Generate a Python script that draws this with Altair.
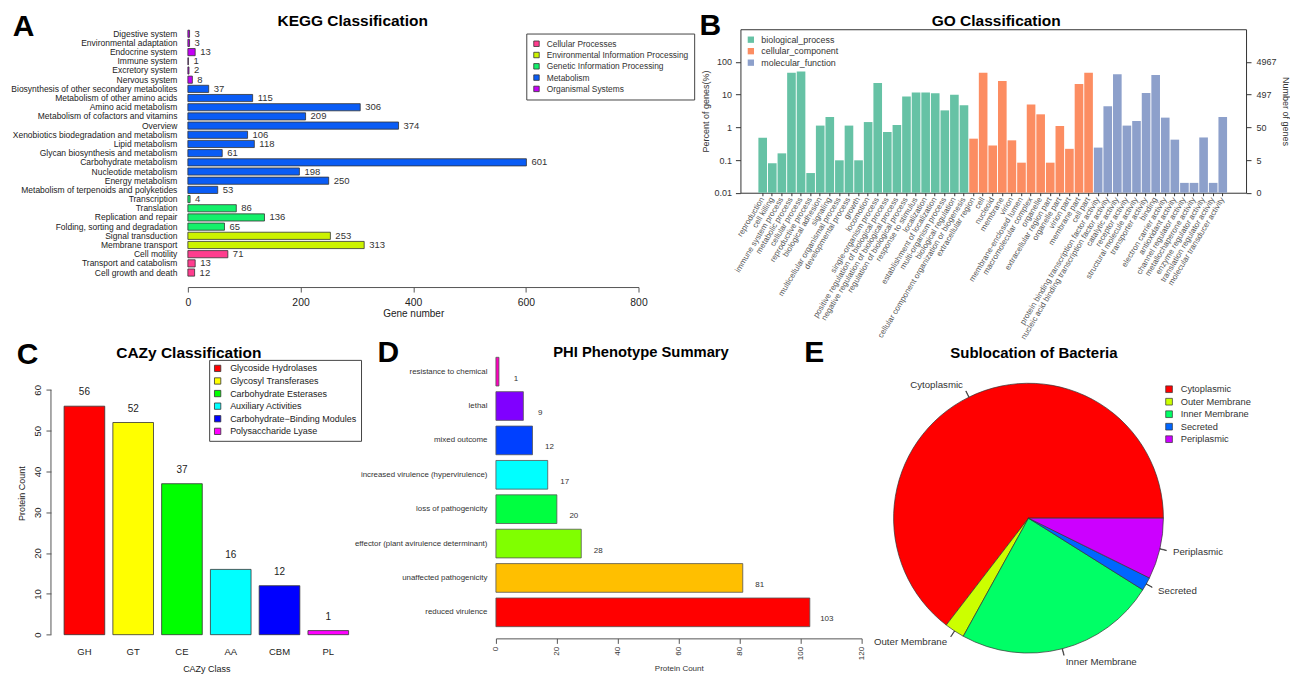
import math
import altair as alt
import pandas as pd

FONT = "Liberation Sans"

# ---------------- A: KEGG ----------------
kegg_terms = ["Digestive system", "Environmental adaptation", "Endocrine system", "Immune system",
              "Excretory system", "Nervous system", "Biosynthesis of other secondary metabolites",
              "Metabolism of other amino acids", "Amino acid metabolism", "Metabolism of cofactors and vitamins",
              "Overview", "Xenobiotics biodegradation and metabolism", "Lipid metabolism",
              "Glycan biosynthesis and metabolism", "Carbohydrate metabolism", "Nucleotide metabolism",
              "Energy metabolism", "Metabolism of terpenoids and polyketides", "Transcription", "Translation",
              "Replication and repair", "Folding, sorting and degradation", "Signal transduction",
              "Membrane transport", "Cell motility", "Transport and catabolism", "Cell growth and death"]
kegg_counts = [3, 3, 13, 1, 2, 8, 37, 115, 306, 209, 374, 106, 118, 61, 601, 198, 250, 53,
               4, 86, 136, 65, 253, 313, 71, 13, 12]
kegg_class = ["Organismal Systems"] * 6 + ["Metabolism"] * 12 + ["Genetic Information Processing"] * 4 + \
             ["Environmental Information Processing"] * 2 + ["Cellular Processes"] * 3
kegg_class_order = ["Cellular Processes", "Environmental Information Processing",
                    "Genetic Information Processing", "Metabolism", "Organismal Systems"]
kegg_colors = ["#FF3D8E", "#CCF200", "#14F06A", "#0A5CF5", "#C400F5"]
kegg_ticks = [0, 200, 400, 600, 800]

# ---------------- B: GO ----------------
go_bp_terms = ["reproduction", "cell killing", "immune system process", "metabolic process", "cellular process",
               "reproductive process", "biological adhesion", "signaling", "multicellular organismal process",
               "developmental process", "growth", "locomotion", "single-organism process",
               "positive regulation of biological process", "negative regulation of biological process",
               "regulation of biological process", "response to stimulus", "localization",
               "establishment of localization", "multi-organism process", "biological regulation",
               "cellular component organization or biogenesis"]
go_bp_pct = [0.48, 0.079, 0.16, 47, 51, 0.04, 1.13, 2.07, 0.098, 1.13, 0.098, 1.45, 22.7,
             0.72, 1.18, 8.7, 11.6, 11.6, 11.0, 3.3, 10.0, 4.7]
go_cc_terms = ["extracellular region", "cell", "nucleoid", "membrane", "virion", "membrane-enclosed lumen",
               "macromolecular complex", "organelle", "extracellular region part", "organelle part",
               "virion part", "membrane part", "cell part"]
go_cc_pct = [0.45, 47, 0.28, 26, 0.40, 0.083, 5.0, 2.5, 0.083, 1.1, 0.22, 21, 47]
go_mf_terms = ["protein binding transcription factor activity", "nucleic acid binding transcription factor activity",
               "catalytic activity", "receptor activity", "structural molecule activity", "transporter activity",
               "binding", "electron carrier activity", "antioxidant activity", "channel regulator activity",
               "metallochaperone activity", "enzyme regulator activity", "translation regulator activity",
               "molecular transducer activity"]
go_mf_pct = [0.24, 4.4, 42, 1.13, 1.56, 11.2, 40, 1.98, 0.42, 0.02, 0.02, 0.49, 0.02, 2.07]
go_categories = ["biological_process", "cellular_component", "molecular_function"]
go_colors = ["#66C2A5", "#FC8D62", "#8DA0CB"]
go_total_genes = 4967
go_ticks = [0.01, 0.1, 1, 10, 100]

# ---------------- C: CAZy ----------------
cazy_class = ["GH", "GT", "CE", "AA", "CBM", "PL"]
cazy_counts = [56, 52, 37, 16, 12, 1]
cazy_names = ["Glycoside Hydrolases", "Glycosyl Transferases", "Carbohydrate Esterases",
              "Auxiliary Activities", "Carbohydrate\u2212Binding Modules", "Polysaccharide Lyase"]
cazy_colors = ["#FF0000", "#FFFF00", "#00FF00", "#00FFFF", "#0000FF", "#FF00FF"]
cazy_ticks = [0, 10, 20, 30, 40, 50, 60]

# ---------------- D: PHI ----------------
phi_terms = ["resistance to chemical", "lethal", "mixed outcome", "increased virulence (hypervirulence)",
             "loss of pathogenicity", "effector (plant avirulence determinant)", "unaffected pathogenicity",
             "reduced virulence"]
phi_counts = [1, 9, 12, 17, 20, 28, 81, 103]
phi_colors = ["#FF00BF", "#8000FF", "#0040FF", "#00FFFF", "#00FF40", "#80FF00", "#FFBF00", "#FF0000"]
phi_ticks = [0, 20, 40, 60, 80, 100, 120]

# ---------------- E: Sublocation ----------------
pie_names = ["Cytoplasmic", "Outer Membrane", "Inner Membrane", "Secreted", "Periplasmic"]
pie_values = [64.5, 2.4, 24.1, 1.6, 7.3]
pie_colors = ["#FF0000", "#CCFF00", "#00FF66", "#0066FF", "#CC00FF"]

panel_letters = ["A", "B", "C", "D", "E"]
panel_titles = ["KEGG Classification", "GO Classification", "CAZy Classification",
                "PHI Phenotype Summary", "Sublocation of Bacteria"]


def annot(txt, x, y, size, weight="bold"):
    return alt.Chart(pd.DataFrame({"t": [txt]})).mark_text(
        font=FONT, fontSize=size, fontWeight=weight, align="center", baseline="middle", color="#000"
    ).encode(x=alt.value(x), y=alt.value(y), text="t:N")


def gap(w, h):
    return alt.Chart(pd.DataFrame({"t": [0]})).mark_point(
        filled=True, size=1, color="transparent").encode(
        x=alt.value(w / 2), y=alt.value(h / 2)).properties(width=w, height=h)


def guard(x, y):
    # invisible layout anchor: fixes the top-left extent of the whole figure
    return alt.Chart(pd.DataFrame({"t": [0]})).mark_point(
        filled=True, size=1, color="transparent").encode(x=alt.value(x), y=alt.value(y))


# ======== Panel A ========
A_W, A_H = 451, 248
kegg_df = pd.DataFrame({"term": kegg_terms, "count": kegg_counts, "cls": kegg_class})
kb = alt.Chart(kegg_df)
ky = alt.Y("term:N", sort=kegg_terms, scale=alt.Scale(paddingInner=0.22, paddingOuter=0.1),
           axis=alt.Axis(title=None, ticks=False, domain=False, labelFontSize=8.5, labelColor="#222",
                         labelPadding=11, labelLimit=400))
kx = alt.X("count:Q", scale=alt.Scale(domain=[0, 800], nice=False),
           axis=alt.Axis(values=kegg_ticks, grid=False, offset=10, tickSize=5, domainColor="#555",
                         tickColor="#555", labelFontSize=10.4, labelPadding=5, labelColor="#222",
                         labelFlush=False,
                         title="Gene number", titleFontSize=10, titleFontWeight="normal", titlePadding=1,
                         titleColor="#222"))
kegg_bars = kb.mark_bar(stroke="#333", strokeWidth=0.8).encode(
    y=ky, x=kx,
    color=alt.Color("cls:N", scale=alt.Scale(domain=kegg_class_order, range=kegg_colors),
                    legend=alt.Legend(orient="none", legendX=338.7, legendY=4.3, title=None,
                                      strokeColor="#444", fillColor="#fff", padding=6,
                                      symbolType="square", symbolSize=30, symbolStrokeColor="#333",
                                      symbolStrokeWidth=0.8, labelFontSize=8.4, labelColor="#333",
                                      rowPadding=1.3, labelOffset=6)))
kegg_text = kb.mark_text(align="left", dx=5, fontSize=9.5, color="#333", font=FONT).encode(
    y=alt.Y("term:N", sort=kegg_terms), x="count:Q", text="count:Q")
panel_a = alt.layer(kegg_bars, kegg_text,
                    annot(panel_titles[0], 165, -8.4, 15.5),
                    annot(panel_letters[0], -164.5, -2.4, 30),
                    guard(-179, -19.4)).properties(width=A_W, height=A_H)

# ======== Panel B ========
B_W, B_H = 506, 163.6
go_terms = go_bp_terms + go_cc_terms + go_mf_terms
go_df = pd.DataFrame({
    "term": go_terms,
    "pct": go_bp_pct + go_cc_pct + go_mf_pct,
    "cat": [go_categories[0]] * len(go_bp_terms) + [go_categories[1]] * len(go_cc_terms)
           + [go_categories[2]] * len(go_mf_terms)})
go_xscale = alt.Scale(range=[17.5, 487.5], paddingInner=0.1, paddingOuter=0.05)
go_yscale = alt.Scale(type="log", domain=[0.01, 1000], nice=False)
go_xaxis = alt.Axis(title=None, labelAngle=-59, labelAlign="right", labelBaseline="middle",
                    labelFontSize=8, labelColor="#555", tickSize=3, tickColor="#333",
                    domain=False, labelPadding=2, labelLimit=300, labelOverlap=False)
gb = alt.Chart(go_df)
go_bars = gb.mark_bar().encode(
    x=alt.X("term:N", sort=go_terms, scale=go_xscale, axis=go_xaxis),
    y=alt.Y("pct:Q", scale=go_yscale,
            axis=alt.Axis(values=go_ticks, format="~g", grid=False, domain=False, tickSize=5,
                          tickColor="#333", labelFontSize=9, labelColor="#333", labelPadding=4,
                          labelFlush=False,
                          title="Percent of genes(%)", titleFontSize=9, titleFontWeight="normal",
                          titleColor="#333", titlePadding=3)),
    y2=alt.datum(0.01),
    color=alt.Color("cat:N", scale=alt.Scale(domain=go_categories, range=go_colors),
                    legend=alt.Legend(orient="none", legendX=6, legendY=6, title=None,
                                      symbolType="square", symbolSize=40, symbolStrokeWidth=0,
                                      labelFontSize=8.9, labelColor="#333", rowPadding=1.5,
                                      padding=0, labelOffset=6)))
go_right = gb.mark_bar(opacity=0).encode(
    x=alt.X("term:N", sort=go_terms, scale=go_xscale, axis=go_xaxis),
    y=alt.Y("pct:Q", scale=go_yscale,
            axis=alt.Axis(orient="right", values=go_ticks,
                          labelExpr="format(round(datum.value*%d/100),'d')" % go_total_genes,
                          grid=False, domain=False, tickSize=5, tickColor="#333", labelFontSize=9,
                          labelColor="#333", labelPadding=5, labelFlush=False,
                          title="Number of genes", titleFontSize=9,
                          titleFontWeight="normal", titleColor="#333", titlePadding=4)),
    y2=alt.datum(0.01))
panel_b = alt.layer(go_bars, go_right,
                    annot(panel_titles[1], 256, -8.4, 15.5),
                    annot(panel_letters[1], -30, -3.4, 30)).resolve_scale(y="independent").properties(
    width=B_W, height=B_H, view=alt.ViewBackground(stroke="#333", strokeWidth=1))

# ======== Panel C ========
C_W, C_H = 301, 283.3
cazy_df = pd.DataFrame({"cls": cazy_class, "count": cazy_counts, "name": cazy_names})
cazy_ymax = cazy_ticks[-1] * C_H / 245.0
cb = alt.Chart(cazy_df)
cy_scale = alt.Scale(domain=[0, cazy_ymax], nice=False)
cazy_bars = cb.mark_bar(stroke="#333", strokeWidth=0.8).encode(
    x=alt.X("cls:N", sort=cazy_class, scale=alt.Scale(paddingInner=0.1667, paddingOuter=0.1667),
            axis=alt.Axis(title="CAZy Class", ticks=False, domain=False, labelAngle=0, labelFontSize=9.5,
                          labelColor="#222", labelPadding=12, titleFontSize=9, titleFontWeight="normal",
                          titleColor="#222", titlePadding=8)),
    y=alt.Y("count:Q", scale=cy_scale,
            axis=alt.Axis(values=cazy_ticks, grid=False, domain=False, offset=5, tickSize=5,
                          tickColor="#555", labelAngle=-90, labelAlign="center", labelBaseline="bottom",
                          labelFontSize=9.5, labelColor="#222", labelPadding=3, labelFlush=False,
                          title="Protein Count",
                          titleFontSize=9, titleFontWeight="normal", titleColor="#222", titlePadding=6)),
    color=alt.Color("name:N", scale=alt.Scale(domain=cazy_names, range=cazy_colors),
                    legend=alt.Legend(orient="none", legendX=153.3, legendY=8.3, title=None,
                                      strokeColor="#444", fillColor="#fff", padding=4,
                                      symbolType="square", symbolSize=40, symbolStrokeColor="#333",
                                      symbolStrokeWidth=0.8, labelFontSize=9, labelColor="#222",
                                      rowPadding=1.6, labelOffset=8)))
cazy_text = cb.mark_text(fontSize=10, color="#222", font=FONT, dy=-14, baseline="middle").encode(
    x=alt.X("cls:N", sort=cazy_class), y=alt.Y("count:Q", scale=cy_scale), text="count:Q")
cazy_axis = alt.Chart(pd.DataFrame({"lo": [cazy_ticks[0]], "hi": [cazy_ticks[-1]]})).mark_rule(
    color="#555", strokeWidth=1).encode(x=alt.value(-5), y=alt.Y("lo:Q", scale=cy_scale), y2="hi:Q")
panel_c = alt.layer(cazy_bars, cazy_text, cazy_axis,
                    annot(panel_titles[2], 133, 1, 15.5),
                    annot(panel_letters[2], -28.5, 3, 30)).properties(width=C_W, height=C_H)

# ======== Panel D ========
D_W, D_H = 366, 281
phi_df = pd.DataFrame({"term": phi_terms, "count": phi_counts})
pb = alt.Chart(phi_df)
phi_bars = pb.mark_bar(stroke="#555", strokeWidth=0.8).encode(
    y=alt.Y("term:N", sort=phi_terms, scale=alt.Scale(paddingInner=0.166, paddingOuter=0.166),
            axis=alt.Axis(title=None, ticks=False, domain=False, labelFontSize=7.9, labelColor="#333",
                          labelPadding=9, labelLimit=400)),
    x=alt.X("count:Q", scale=alt.Scale(domain=[0, 120], nice=False),
            axis=alt.Axis(values=phi_ticks, grid=False, offset=6, tickSize=5, domainColor="#555",
                          tickColor="#555", labelAngle=-90, labelAlign="right", labelBaseline="middle",
                          labelFontSize=8, labelColor="#333", labelPadding=3, labelFlush=False,
                          title="Protein Count",
                          titleFontSize=8, titleFontWeight="normal", titleColor="#333", titlePadding=5)),
    color=alt.Color("term:N", scale=alt.Scale(domain=phi_terms, range=phi_colors), legend=None))
phi_text = pb.mark_text(fontSize=8, color="#333", font=FONT, dx=17, dy=7).encode(
    y=alt.Y("term:N", sort=phi_terms), x="count:Q", text="count:Q")
panel_d = alt.layer(phi_bars, phi_text,
                    annot(panel_titles[3], 145.2, 1, 14.8),
                    annot(panel_letters[3], -107.8, 1, 30)).properties(width=D_W, height=D_H)

# ======== Panel E ========
E_W, E_H = 270, 333.4
pie_total = sum(pie_values)
cum = 0.0
sides = []
for v in pie_values:
    mid = (cum + v / 2) / pie_total * 2 * math.pi
    sides.append("left" if math.cos(mid) < 0 else "right")
    cum += v
pie_df = pd.DataFrame({"name": pie_names, "value": pie_values, "idx": list(range(len(pie_names))),
                       "side": sides})
theta_scale = alt.Scale(range=[2.5 * math.pi, 0.5 * math.pi])
eb = alt.Chart(pie_df)
pie = eb.mark_arc(radius=135, stroke="#333", strokeWidth=0.7).encode(
    theta=alt.Theta("value:Q", stack=True, scale=theta_scale),
    order=alt.Order("idx:Q"),
    color=alt.Color("name:N", scale=alt.Scale(domain=pie_names, range=pie_colors), sort=pie_names,
                    legend=alt.Legend(orient="none", legendX=271, legendY=33, title=None,
                                      symbolType="square", symbolSize=45, symbolStrokeColor="#333",
                                      symbolStrokeWidth=0.7, labelFontSize=9.3, labelColor="#333",
                                      rowPadding=1.5, padding=0, labelOffset=7)))
pie_ticks = eb.transform_window(cum="sum(value)", sort=[alt.SortField("idx")]).transform_calculate(
    t0="datum.cum - datum.value / 2 - 0.03", t1="datum.cum - datum.value / 2 + 0.03"
).mark_arc(radius=141.75, radius2=135, stroke="#333", strokeWidth=0.6, fill="#333").encode(
    theta=alt.Theta("t0:Q", scale=theta_scale), theta2="t1:Q")
pie_lab_l = eb.mark_text(radius=148.5, align="right", baseline="middle", fontSize=9.7, font=FONT,
                         color="#333").encode(
    theta=alt.Theta("value:Q", stack=True, scale=theta_scale), order=alt.Order("idx:Q"), text="name:N",
    opacity=alt.condition("datum.side == 'left'", alt.value(1), alt.value(0)))
pie_lab_r = eb.mark_text(radius=148.5, align="left", baseline="middle", fontSize=9.7, font=FONT,
                         color="#333").encode(
    theta=alt.Theta("value:Q", stack=True, scale=theta_scale), order=alt.Order("idx:Q"), text="name:N",
    opacity=alt.condition("datum.side == 'right'", alt.value(1), alt.value(0)))
panel_e = alt.layer(pie, pie_ticks, pie_lab_l, pie_lab_r,
                    annot(panel_titles[4], 140.4, 1, 15),
                    annot(panel_letters[4], -79.3, 1, 30)).properties(width=E_W, height=E_H)

# ======== Layout (flush bounds: nested concat rows count as zero-size) ========
RES = dict(x="independent", y="independent", color="independent", opacity="independent",
           theta="independent")
top_inner = alt.hconcat(panel_a, panel_b, spacing=102, bounds="flush").resolve_scale(**RES)
top = alt.hconcat(gap(132, 10), top_inner, spacing=0, bounds="flush").resolve_scale(**RES)
bottom_right = alt.hconcat(panel_d, panel_e, spacing=32, bounds="flush").resolve_scale(**RES)
bottom = alt.hconcat(panel_c, bottom_right, spacing=139.3, bounds="flush").resolve_scale(**RES)

chart = alt.vconcat(top, bottom, spacing=351 - 28.4, bounds="flush").resolve_scale(**RES).properties(
    padding={"left": 0, "top": 1, "right": 0, "bottom": 0}
).configure(font=FONT).configure_view(stroke=None).configure_axis(
    labelFont=FONT, titleFont=FONT).configure_legend(labelFont=FONT)

chart.save("out.html", embed_options={"renderer": "svg", "actions": False})
